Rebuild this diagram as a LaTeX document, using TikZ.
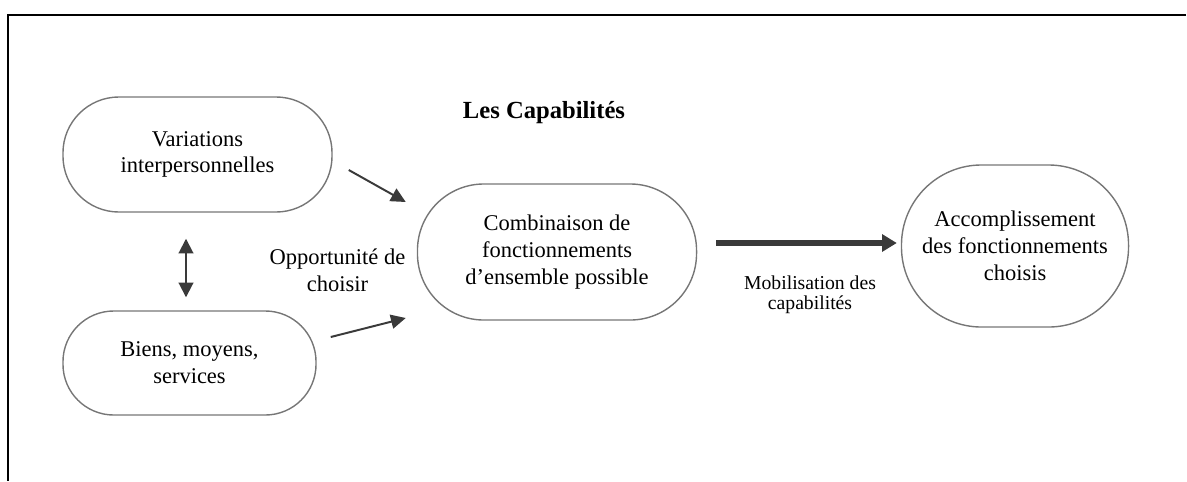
\documentclass[tikz,border=0pt]{standalone}
\usepackage{fontspec}
\setmainfont{Liberation Serif}
\usetikzlibrary{arrows.meta}
\definecolor{boxgray}{RGB}{118,118,118}
\definecolor{arrgray}{RGB}{58,58,58}
\tikzset{
  capbox/.style={draw=boxgray, line width=1pt, align=center, inner sep=0pt,
    font=\fontsize{16}{19}\selectfont},
  lbl/.style={align=center, font=\fontsize{16}{19}\selectfont},
  arr/.style={arrgray, line width=1.4pt, -{Triangle[length=10.5pt,width=10pt]}},
  bigarr/.style={arrgray, line width=4.3pt, -{Triangle[length=10.5pt,width=12pt]}},
}
\begin{document}
\begin{tikzpicture}[x=0.025cm,y=-0.025cm]
\useasboundingbox (0,0) rectangle (1187,481);
\draw[line width=1.5pt] (1186,15) -- (8,15) -- (8,481);

\node[capbox, minimum width=6.725cm, minimum height=2.875cm, rounded corners=1.4cm] (var) at (197.5,154.5) {Variations\\interpersonnelles};
\node[capbox, minimum width=6.325cm, minimum height=2.6cm, rounded corners=1.27cm] (biens) at (189.5,363) {Biens, moyens,\\services};
\node[capbox, minimum width=6.975cm, minimum height=3.4cm, rounded corners=1.66cm] (comb) at (557,252) {Combinaison de\\fonctionnements\\d’ensemble possible};
\node[capbox, minimum width=5.675cm, minimum height=4.05cm, rounded corners=2cm] (acc) at (1015,246) {Accomplissement\\des fonctionnements\\choisis};

\node[font=\fontsize{17.5}{20}\selectfont\bfseries] (titre) at (544,113) {Les Capabilités};
\node[lbl] (opp) at (337.5,270) {Opportunité de\\choisir};
\node[lbl, font=\fontsize{14}{14.5}\selectfont] (mob) at (810,295) {Mobilisation des\\capabilités};

\draw[arr] ([shift={(16,15.5)}]var.east) -- ([shift={(-11,-50)}]comb.west);
\draw[arr] ([shift={(14,-26)}]biens.east) -- ([shift={(-11,66)}]comb.west);
\draw[arr, {Triangle[length=10.5pt,width=10.5pt]}-{Triangle[length=10.5pt,width=10.5pt]}] ([shift={(-11.5,26)}]var.south) -- ([shift={(-3.5,-13)}]biens.north);
\draw[bigarr] ([shift={(19,-9)}]comb.east) -- ([shift={(-4,-3)}]acc.west);
\end{tikzpicture}
\end{document}
